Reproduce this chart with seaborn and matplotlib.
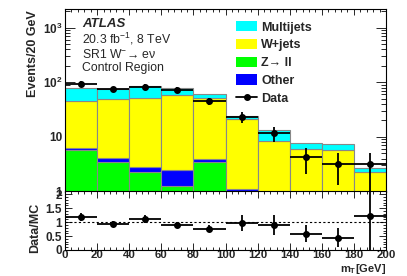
import numpy as np
import pandas as pd
import matplotlib
matplotlib.use("Agg")
import matplotlib.pyplot as plt
import seaborn as sns
from matplotlib.ticker import FixedLocator, FixedFormatter, MultipleLocator
from matplotlib.patches import Patch
from matplotlib.lines import Line2D

# ==========================
# Data
# ==========================

bin_edges = [0, 20, 40, 60, 80, 100, 120, 140, 160, 180, 200]

multijets = [31.5, 24.0, 32.5, 19.0, 9.5, 2.6, 5.0, 1.5, 1.45, 0.44]
wjets = [39.7, 45.9, 49.6, 56.5, 48.6, 20.1, 8.1, 5.8, 5.55, 2.06]
other = [0.5, 0.6, 0.58, 1.18, 0.46, 0.22, 0.1, 0.1, 0.1, 0.1]
zll = [5.8, 3.5, 2.27, 1.26, 3.44, 0.9, 0.3, 0.2, 0.2, 0.1]

data = [95, 75, 83, 72, 45.5, 22.8, 12.0, 4.3, 3.2, 3.25]
data_err_lo = [9.7, 8.7, 9.1, 8.5, 6.7, 4.9, 3.8, 2.2, 1.9, 2.5]
data_err_hi = [9.7, 8.7, 9.1, 8.5, 6.7, 5.8, 3.5, 2.0, 1.9, 1.8]

ratio = [1.19, 0.95, 1.11, 0.90, 0.77, 0.96, 0.89, 0.59, 0.44, 1.23]
ratio_err = [0.15, 0.10, 0.15, 0.10, 0.12, 0.28, 0.35, 0.32, 0.35, 1.30]

processes = ["Multijets", "W+jets", "Other", "Z\u2192 ll"]
colors = {"Multijets": "#00ffff", "W+jets": "#ffff00",
          "Other": "#0000ff", "Z\u2192 ll": "#00ff00"}

edges = np.array(bin_edges, dtype=float)
centers = 0.5 * (edges[1:] + edges[:-1])
half_width = 0.5 * (edges[1:] - edges[:-1])

df = pd.DataFrame({
    "mT": np.tile(centers, 4),
    "events": np.concatenate([multijets, wjets, other, zll]),
    "process": np.repeat(processes, len(centers)),
})

# ==========================
# Style
# ==========================

sns.set_style("white")
plt.rcParams["font.family"] = ["Liberation Sans", "DejaVu Sans"]
plt.rcParams["font.weight"] = "bold"
plt.rcParams["mathtext.fontset"] = "custom"
plt.rcParams["mathtext.rm"] = "Liberation Sans:weight=normal"
plt.rcParams["mathtext.bf"] = "Liberation Sans:weight=bold"
plt.rcParams["mathtext.it"] = "Liberation Sans:italic"
plt.rcParams["axes.edgecolor"] = "black"
plt.rcParams["axes.linewidth"] = 0.8

W, H = 407, 276
fig = plt.figure(figsize=(W / 100, H / 100), dpi=100)

def fx(px):
    return px / W

def fy(py):
    return 1 - py / H

ax = fig.add_axes([fx(65), fy(191.5), fx(386) - fx(65), fy(9) - fy(191.5)])
axr = fig.add_axes([fx(65), fy(250), fx(386) - fx(65), fy(191.5) - fy(250)])

# ==========================
# Main panel
# ==========================

sns.histplot(df, x="mT", weights="events", hue="process", hue_order=processes,
             multiple="stack", bins=bin_edges, palette=colors, alpha=1,
             edgecolor="#888888", linewidth=0.8, legend=False, ax=ax)

ax.errorbar(centers, data, xerr=half_width, yerr=[data_err_lo, data_err_hi],
            fmt="o", color="black", ms=4, elinewidth=1.3, capsize=0)

ax.set_yscale("log")
ax.set_ylim(1, 2200)
ax.set_xlim(0, 200)
ax.set_xlabel("")
ax.set_ylabel("")
ax.yaxis.set_major_locator(FixedLocator([1, 10, 100, 1000]))
ax.yaxis.set_major_formatter(FixedFormatter(["1", "10", r"$\mathbf{10^{2}}$", r"$\mathbf{10^{3}}$"]))
ax.yaxis.set_minor_locator(FixedLocator([m * 10 ** e for e in range(0, 4) for m in range(2, 10)]))
ax.xaxis.set_major_locator(MultipleLocator(20))
ax.xaxis.set_minor_locator(MultipleLocator(4))
ax.tick_params(axis="x", which="both", labelbottom=False, direction="in", top=True, bottom=True)
ax.tick_params(axis="x", which="major", length=4, width=0.7)
ax.tick_params(axis="x", which="minor", length=2, width=0.7)
ax.tick_params(axis="y", which="both", direction="in", left=True, right=True, labelsize=8.5, pad=2)
ax.tick_params(axis="y", which="major", length=7, width=0.7)
ax.tick_params(axis="y", which="minor", length=3.5, width=0.7)

ax.text(0.053, 0.918, "ATLAS", transform=ax.transAxes, fontsize=9.5,
        fontweight="bold", fontstyle="italic", va="center")
ax.text(0.053, 0.834, "20.3 fb$^{-1}$, 8 TeV", transform=ax.transAxes,
        fontsize=8.8, fontweight="normal", va="center")
ax.text(0.053, 0.75, "SR1 W$^{-}$\u2192 e\u03bd", transform=ax.transAxes,
        fontsize=8.8, fontweight="normal", va="center")
ax.text(0.053, 0.676, "Control Region", transform=ax.transAxes,
        fontsize=8.8, fontweight="normal", va="center")

handles = [Patch(facecolor=colors["Multijets"], edgecolor="none"),
           Patch(facecolor=colors["W+jets"], edgecolor="none"),
           Patch(facecolor=colors["Z\u2192 ll"], edgecolor="none"),
           Patch(facecolor=colors["Other"], edgecolor="none"),
           Line2D([], [], color="black", marker="o", ms=4, lw=1.3)]
labels = ["Multijets", "W+jets", "Z\u2192 ll", "Other", "Data"]
fig.legend(handles, labels, loc="upper left", bbox_to_anchor=(fx(236), fy(21)),
           frameon=False, borderpad=0, borderaxespad=0,
           labelspacing=0.42, handlelength=1.7, handleheight=0.9,
           handletextpad=0.3, prop={"weight": "bold", "size": 9})

# ==========================
# Ratio panel
# ==========================

axr.axhline(1, color="black", lw=0.8, ls=(0, (2, 2)))
axr.errorbar(centers, ratio, xerr=half_width, yerr=ratio_err,
             fmt="o", color="black", ms=4, elinewidth=1.3, capsize=0)
axr.set_xlim(0, 200)
axr.set_ylim(0, 2.1)
axr.yaxis.set_major_locator(FixedLocator([0, 0.5, 1, 1.5, 2]))
axr.yaxis.set_major_formatter(FixedFormatter(["0", "0.5", "1", "1.5", "2"]))
axr.yaxis.set_minor_locator(MultipleLocator(0.1))
axr.xaxis.set_major_locator(MultipleLocator(20))
axr.xaxis.set_minor_locator(MultipleLocator(4))
axr.tick_params(axis="both", which="both", direction="in", top=True, bottom=True,
                left=True, right=True, labelsize=8.5)
axr.tick_params(axis="x", which="major", length=5, width=0.7, pad=0, labelsize=8.2)
axr.tick_params(axis="x", which="minor", length=2.5, width=0.7)
axr.tick_params(axis="y", which="major", length=5, width=0.7, pad=2)
axr.tick_params(axis="y", which="minor", length=2.5, width=0.7)

fig.text(fx(386), fy(269), r"$\mathbf{m_{T}}$[GeV]", ha="right", va="center", fontsize=8)
fig.text(fx(33), fy(10), "Events/20 GeV", rotation=90, ha="center", va="top", fontsize=9)
fig.text(fx(35), fy(203), "Data/MC", rotation=90, ha="center", va="top", fontsize=9)

plt.savefig("out.png", dpi=100)
